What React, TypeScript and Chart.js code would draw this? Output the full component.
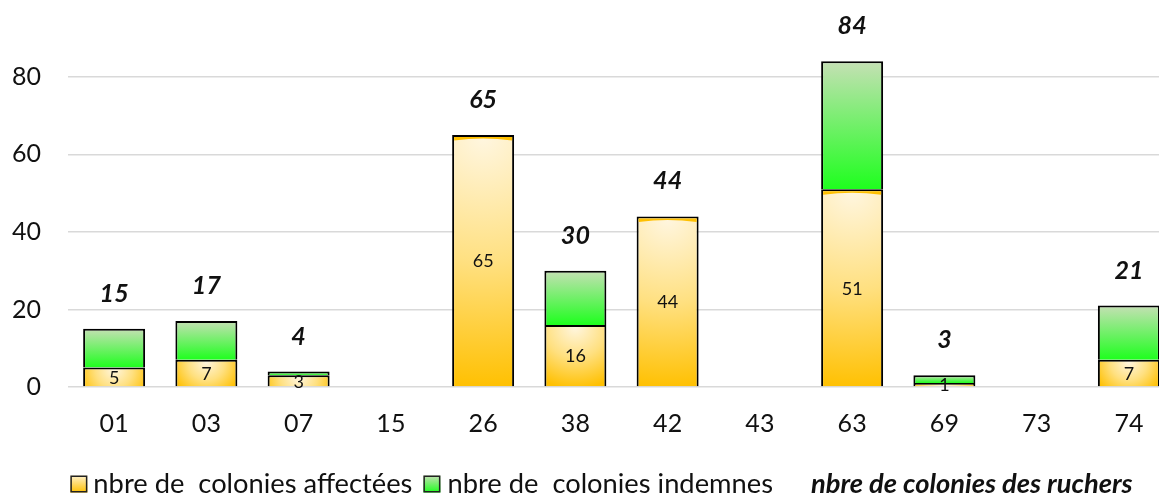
import React, { useEffect, useRef } from 'react';
import { Chart, registerables } from 'chart.js';

Chart.register(...registerables);

const categories = ['01', '03', '07', '15', '26', '38', '42', '43', '63', '69', '73', '74'];
const affectees = [5, 7, 3, 0, 65, 16, 44, 0, 51, 1, 0, 7];
const indemnes = [10, 10, 1, 0, 0, 14, 0, 0, 33, 2, 0, 14];
const ruchers = [15, 17, 4, 0, 65, 30, 44, 0, 84, 3, 0, 21];
const yTicks = [0, 20, 40, 60, 80];
const legendLabels = [
  'nbre de  colonies affectées',
  'nbre de  colonies indemnes',
  'nbre de colonies des ruchers',
];

const FONT = 'Lato, "Open Sans", sans-serif';
const BAR_PCT = 0.672;

function yellowFill(c: any) {
  const chart = c.chart;
  const ys = chart.scales?.y;
  const xs = chart.scales?.x;
  if (!ys || !xs || c.type !== 'data') return '#FFD966';
  const i = c.dataIndex;
  const bottom = ys.getPixelForValue(0);
  const top = ys.getPixelForValue(affectees[i]);
  const cx = xs.getPixelForValue(i);
  const h = bottom - top;
  const w = (xs.width / categories.length) * BAR_PCT;
  if (!isFinite(h) || !isFinite(cx) || !isFinite(w) || h <= 0) return '#FFC000';
  const R = Math.max(h, w * 0.6);
  const g = chart.ctx.createRadialGradient(cx, top + 2, 0, cx, top + 2, R);
  g.addColorStop(0, '#FFF6E0');
  g.addColorStop(0.5, '#FFE080');
  g.addColorStop(1, '#FFC000');
  return g;
}

function greenFill(c: any) {
  const chart = c.chart;
  const ys = chart.scales?.y;
  if (!ys || c.type !== 'data') return '#7CEB7C';
  const i = c.dataIndex;
  const top = ys.getPixelForValue(affectees[i] + indemnes[i]);
  const bottom = ys.getPixelForValue(affectees[i]);
  if (!isFinite(top) || !isFinite(bottom) || bottom - top <= 0) return '#7CEB7C';
  const g = chart.ctx.createLinearGradient(0, top, 0, bottom);
  g.addColorStop(0, '#C5E0B4');
  g.addColorStop(1, '#1EFF1E');
  return g;
}

const labelsPlugin = {
  id: 'valueLabels',
  afterDatasetsDraw(chart: any) {
    const ctx = chart.ctx;
    ctx.save();
    const m0 = chart.getDatasetMeta(0);
    // thin orange rim at the top of tall orange bars
    m0.data.forEach((el: any) => {
      const h = el.base - el.y;
      if (h > 100) {
        const left = el.x - el.width / 2 + 2;
        const right = el.x + el.width / 2 - 2;
        const t = el.y + 2;
        ctx.beginPath();
        ctx.moveTo(left, t);
        ctx.lineTo(right, t);
        ctx.lineTo(right, t + 3.5);
        ctx.quadraticCurveTo(el.x, t - 0.5, left, t + 3.5);
        ctx.closePath();
        ctx.fillStyle = '#FFC000';
        ctx.fill();
      }
    });
    ctx.fillStyle = '#111';
    ctx.textAlign = 'center';
    ctx.textBaseline = 'middle';
    ctx.font = `18px ${FONT}`;
    m0.data.forEach((el: any, i: number) => {
      if (affectees[i] > 0) ctx.fillText(String(affectees[i]), el.x, (el.y + el.base) / 2 + 1);
    });
    ctx.font = `italic bold 25px ${FONT}`;
    const m2 = chart.getDatasetMeta(2);
    m2.data.forEach((pt: any, i: number) => {
      if (ruchers[i] > 0) ctx.fillText(String(ruchers[i]), pt.x, pt.y - 35);
    });
    ctx.restore();
  },
};

const legendPlugin = {
  id: 'customLegend',
  afterDraw(chart: any) {
    const ctx = chart.ctx;
    ctx.save();
    const yc = 484;
    const box = 17;
    ctx.font = `26px ${FONT}`;
    const base = ctx.measureText(legendLabels[0]).width;
    const size = Math.round(((26 * 319) / base) * 10) / 10;
    ctx.font = `${size}px ${FONT}`;
    const w1 = ctx.measureText(legendLabels[0]).width;
    const w2 = ctx.measureText(legendLabels[1]).width;
    ctx.font = `italic bold ${size}px ${FONT}`;
    const w3 = ctx.measureText(legendLabels[2]).width;
    const total = box + 6 + w1 + 11 + box + 7 + w2 + 38 + w3;
    let x = 601.5 - total / 2;
    ctx.textBaseline = 'middle';
    ctx.textAlign = 'left';
    ctx.fillStyle = '#111';

    const drawBox = (bx: number, c0: string, c1: string) => {
      const g = ctx.createLinearGradient(0, yc - box / 2, 0, yc + box / 2);
      g.addColorStop(0, c0);
      g.addColorStop(1, c1);
      ctx.fillStyle = g;
      ctx.fillRect(bx, yc - box / 2, box, box);
      ctx.strokeStyle = '#222';
      ctx.lineWidth = 1.5;
      ctx.strokeRect(bx + 0.75, yc - box / 2 + 0.75, box - 1.5, box - 1.5);
      ctx.fillStyle = '#111';
    };

    drawBox(x, '#FFF2CC', '#FFC000');
    x += box + 6;
    ctx.font = `${size}px ${FONT}`;
    ctx.fillText(legendLabels[0], x, yc);
    x += w1 + 11;
    drawBox(x, '#C5E0B4', '#1EFF1E');
    x += box + 7;
    ctx.fillText(legendLabels[1], x, yc);
    x += w2 + 38;
    ctx.font = `italic bold ${size}px ${FONT}`;
    ctx.fillText(legendLabels[2], x, yc);
    ctx.restore();
  },
};

export default function App() {
  const canvasRef = useRef<HTMLCanvasElement | null>(null);

  useEffect(() => {
    if (!canvasRef.current) return;
    const chart = new Chart(canvasRef.current, {
      type: 'bar',
      data: {
        labels: categories,
        datasets: [
          {
            type: 'bar',
            label: legendLabels[0],
            data: affectees,
            stack: 'bars',
            backgroundColor: yellowFill,
            borderColor: '#000',
            borderWidth: (c: any) => (c.raw > 0 ? 2 : 0),
            categoryPercentage: 1,
            barPercentage: BAR_PCT,
          },
          {
            type: 'bar',
            label: legendLabels[1],
            data: indemnes,
            stack: 'bars',
            backgroundColor: greenFill,
            borderColor: '#000',
            borderWidth: (c: any) => (c.raw > 0 ? 2 : 0),
            categoryPercentage: 1,
            barPercentage: BAR_PCT,
          },
          {
            type: 'line',
            label: legendLabels[2],
            data: ruchers,
            stack: 'total',
            showLine: false,
            pointRadius: 0,
            pointHoverRadius: 0,
            borderColor: 'rgba(0,0,0,0)',
            backgroundColor: 'rgba(0,0,0,0)',
          },
        ],
      } as any,
      options: {
        animation: false,
        responsive: true,
        maintainAspectRatio: false,
        layout: { padding: { top: 38, left: 0, right: 0, bottom: 0 } },
        plugins: {
          legend: { display: false },
          tooltip: { enabled: false },
          title: { display: false },
        },
        scales: {
          x: {
            stacked: true,
            grid: { display: false, drawTicks: false },
            border: { display: false },
            ticks: { padding: 22, color: '#111', font: { family: FONT, size: 25 } },
            afterFit: (s: any) => {
              s.height = 108;
            },
          },
          y: {
            stacked: true,
            min: 0,
            max: 90,
            grid: { color: '#D9D9D9', lineWidth: 1.5, drawTicks: false },
            border: { display: false },
            ticks: { padding: 27, color: '#111', font: { family: FONT, size: 25 } },
            afterBuildTicks: (s: any) => {
              s.ticks = yTicks.map((v) => ({ value: v }));
            },
            afterFit: (s: any) => {
              s.width = 68;
              s.paddingTop = 0;
              s.paddingBottom = 0;
            },
          },
        },
      } as any,
      plugins: [labelsPlugin, legendPlugin],
    });
    return () => chart.destroy();
  }, []);

  return (
    <div style={{ position: 'fixed', left: 0, top: 0, width: 1159, height: 495, overflow: 'hidden', background: '#fff' }}>
      <div style={{ position: 'relative', width: 1175, height: 495 }}>
        <canvas ref={canvasRef} />
      </div>
    </div>
  );
}
